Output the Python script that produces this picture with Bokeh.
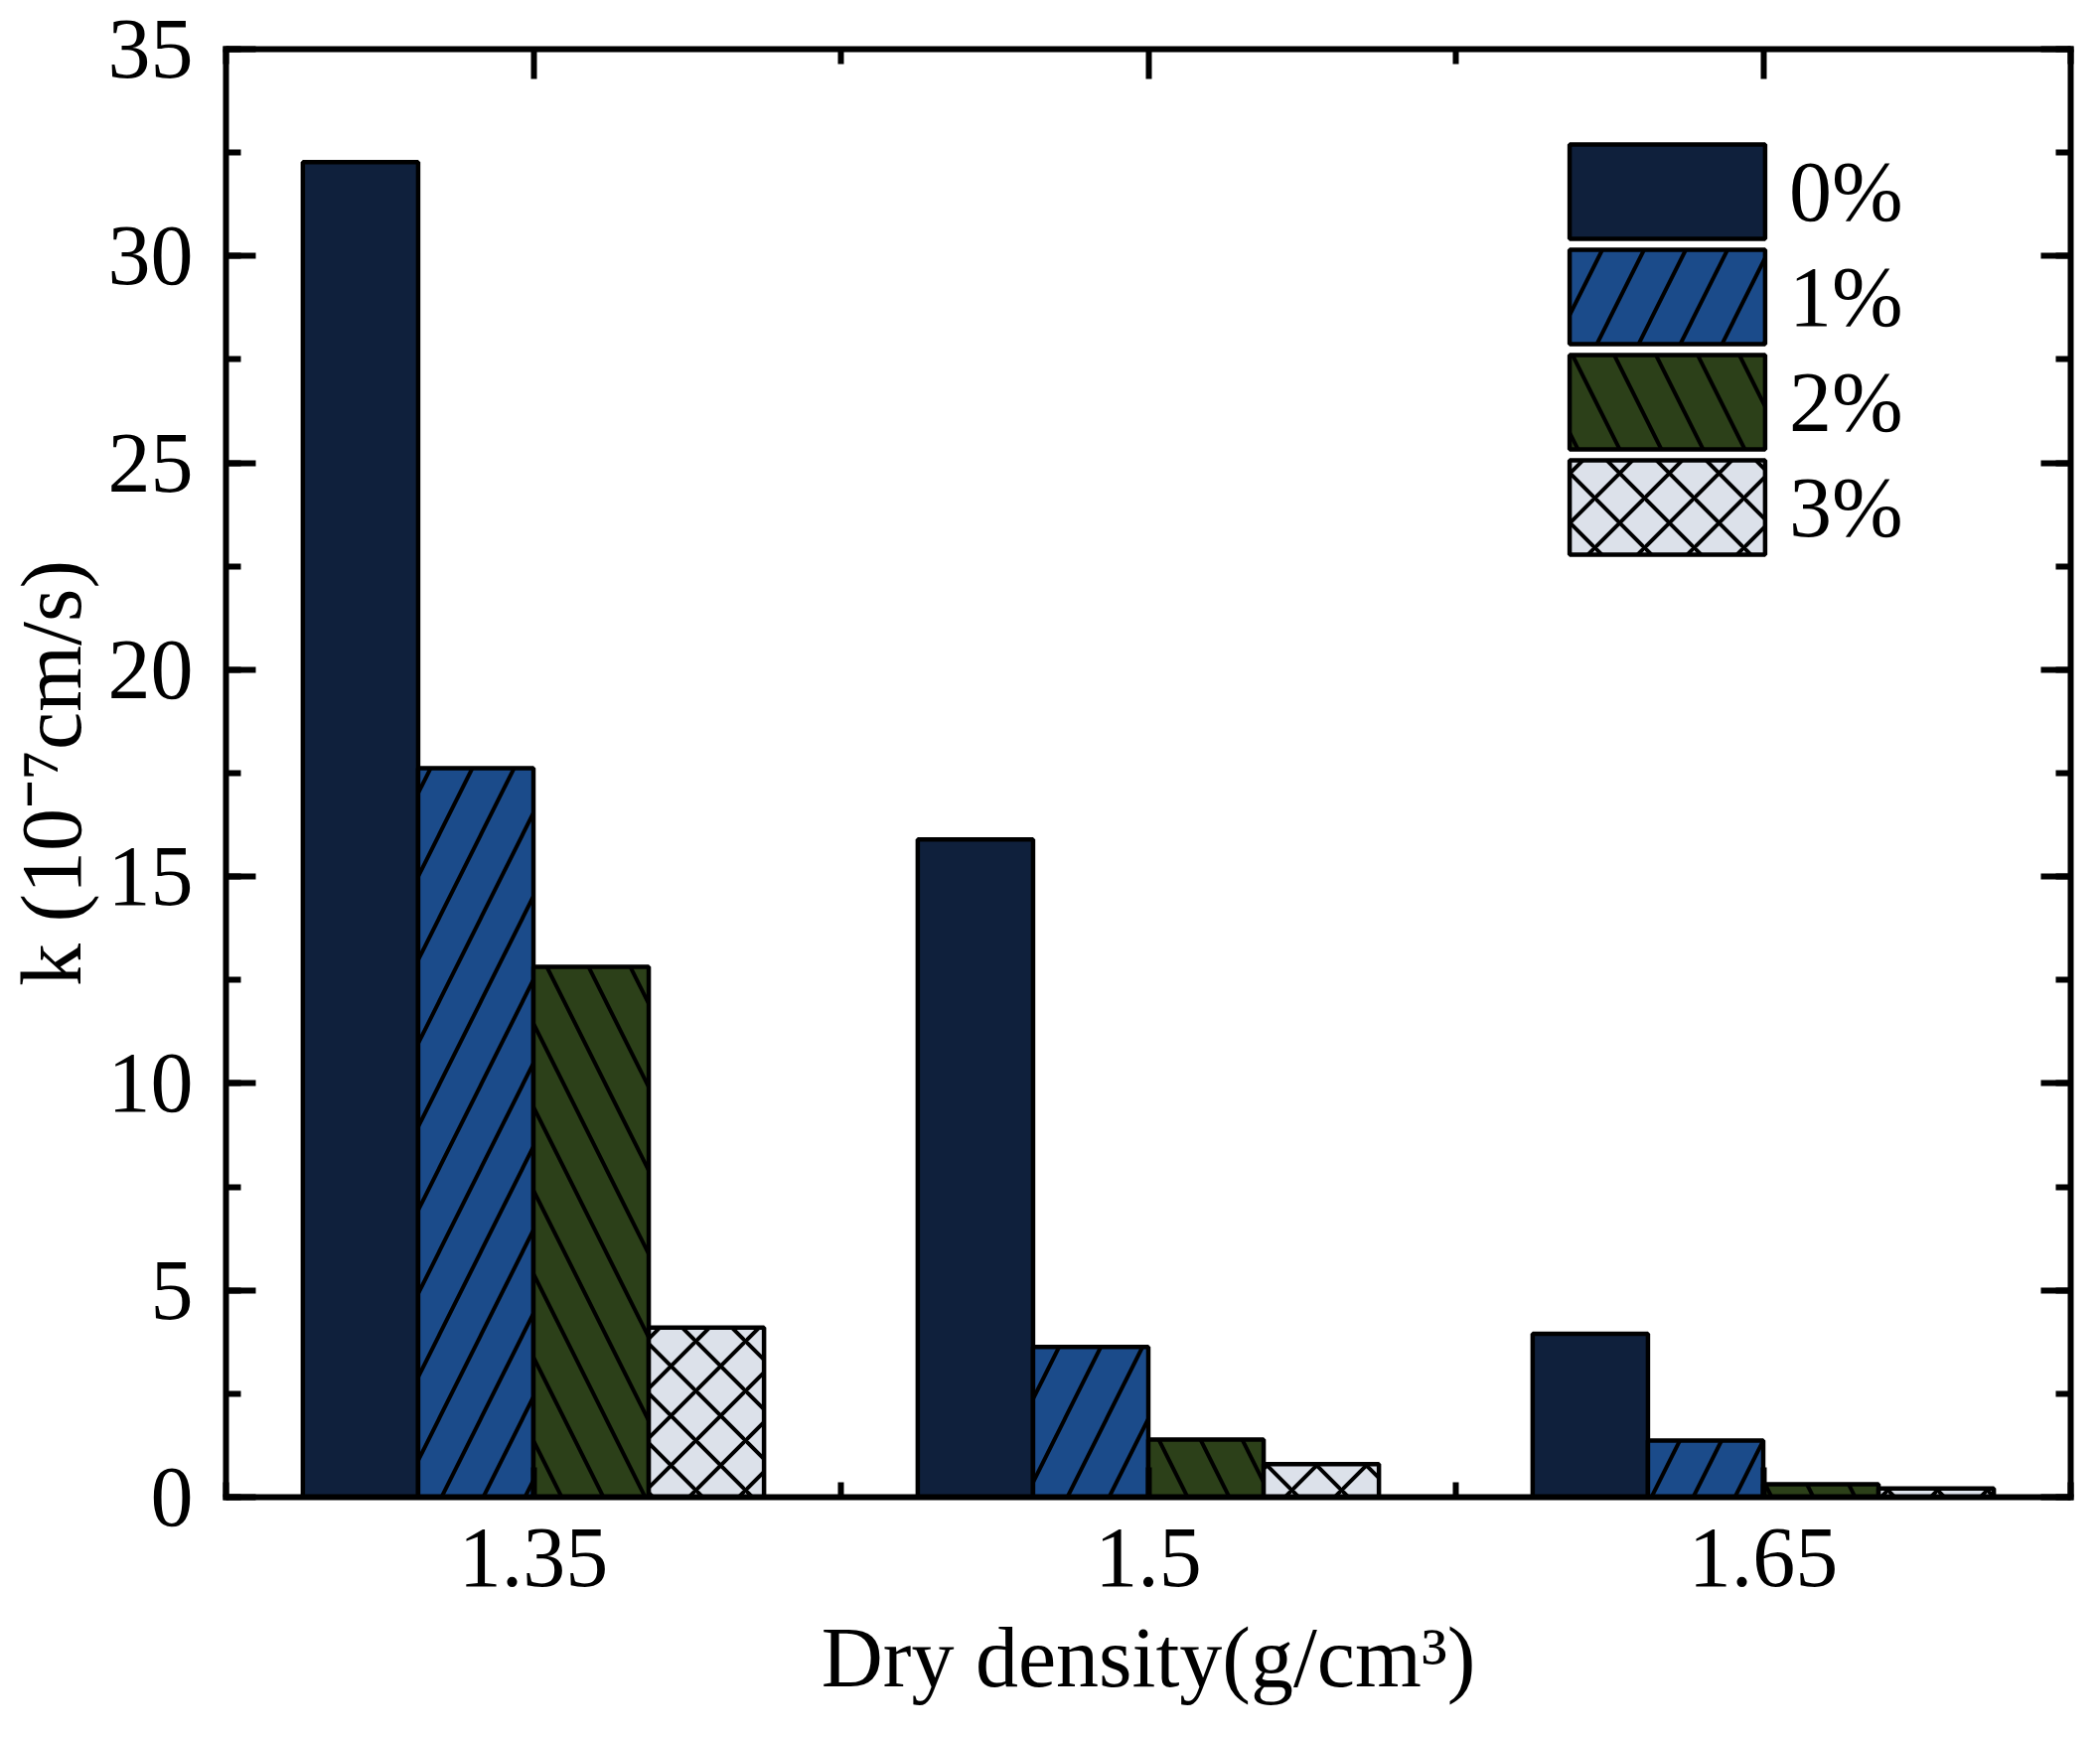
# permeability k vs dry density, grouped bars by fibre content
from bokeh.plotting import figure
from bokeh.models import (ColumnDataSource, LinearAxis, FixedTicker,
                          CustomJSTickFormatter, Legend, LegendItem)
from bokeh.transform import dodge
from bokeh.embed import file_html
from bokeh.resources import INLINE

# dry density (g/cm3)
densities = [1.35, 1.5, 1.65]
# k (10^-7 cm/s) for each fibre content
k_0 = [32.27, 15.9, 3.95]
k_1 = [17.62, 3.63, 1.37]
k_2 = [12.82, 1.39, 0.31]
k_3 = [4.1, 0.8, 0.21]
contents = ["0%", "1%", "2%", "3%"]

# axis ticks
x_ticks = [1.35, 1.5, 1.65]
x_minor = [1.275, 1.425, 1.575, 1.725]
y_ticks = [0, 5, 10, 15, 20, 25, 30, 35]
y_minor = [0, 2.5, 5, 7.5, 10, 12.5, 15, 17.5, 20, 22.5, 25, 27.5, 30, 32.5, 35]

FONT = "Liberation Serif"
SIZE = "86px"

source = ColumnDataSource(data=dict(x=densities, k0=k_0, k1=k_1, k2=k_2, k3=k_3))

p = figure(frame_width=1857, frame_height=1458,
           x_range=(1.275, 1.725), y_range=(0, 35),
           min_border_left=227, min_border_right=14,
           min_border_top=49, min_border_bottom=227,
           output_backend="svg", toolbar_location=None,
           background_fill_color="white", border_fill_color="white")
p.xgrid.visible = False
p.ygrid.visible = False
p.outline_line_color = None

# bars: 4 per group, 3/4 of the group spacing
bw = 0.15 * 0.75 / 4
fills = ["#0f203c", "#1b4b8a", "#2c4019", "#dce1ea"]
hatches = [" ", "/", "\\", "x"]
hscale = [84, 84, 84, 50]
cols = ["k0", "k1", "k2", "k3"]
bars = []
for i in range(4):
    r = p.vbar(x=dodge("x", (i - 1.5) * bw, range=p.x_range), top=cols[i], width=bw,
               source=source, fill_color=fills[i], line_color="black", line_width=4.5,
               hatch_pattern=hatches[i], hatch_color="black", hatch_scale=hscale[i],
               hatch_weight=4)
    bars.append(r)

xt = FixedTicker(ticks=x_ticks, minor_ticks=x_minor)
yt = FixedTicker(ticks=y_ticks, minor_ticks=y_minor)


def style(ax):
    ax.axis_line_width = 6
    ax.axis_line_cap = "square"
    ax.major_tick_in = 30
    ax.major_tick_out = 0
    ax.minor_tick_in = 15
    ax.minor_tick_out = 0
    ax.major_tick_line_width = 6
    ax.minor_tick_line_width = 6
    ax.major_label_text_font = FONT
    ax.major_label_text_font_size = SIZE
    ax.major_label_text_color = "black"
    ax.axis_label_text_font = FONT
    ax.axis_label_text_font_size = SIZE
    ax.axis_label_text_font_style = "normal"
    ax.axis_label_text_color = "black"


xa = p.xaxis[0]
xa.ticker = xt
xa.formatter = CustomJSTickFormatter(code="return String(tick)")
xa.axis_label = "Dry density(g/cm³)"
style(xa)
xa.major_label_standoff = 32
xa.axis_label_standoff = 21

ya = p.yaxis[0]
ya.ticker = yt
ya.axis_label = "k (10⁻⁷cm/s)"
style(ya)
ya.major_label_standoff = 33
ya.axis_label_standoff = 6

# ticks only on top and right
top = LinearAxis(ticker=xt)
style(top)
top.major_label_text_font_size = "0px"
top.major_label_text_color = None
p.add_layout(top, "above")

right = LinearAxis(ticker=yt)
style(right)
right.major_label_text_font_size = "0px"
right.major_label_text_color = None
p.add_layout(right, "right")

# one legend per entry so the boxes sit close together
for i in range(4):
    leg = Legend(items=[LegendItem(label=contents[i], renderers=[bars[i]])],
                 location=(1328, 1255 - 106 * i))
    leg.glyph_width = 246
    leg.glyph_height = 119
    leg.padding = 0
    leg.margin = 0
    leg.label_standoff = 0
    leg.label_text_font = FONT
    leg.label_text_font_size = SIZE
    leg.label_text_color = "black"
    leg.border_line_color = None
    leg.background_fill_alpha = 0
    p.add_layout(leg, "center")

open("out.html", "w").write(file_html(p, INLINE))
